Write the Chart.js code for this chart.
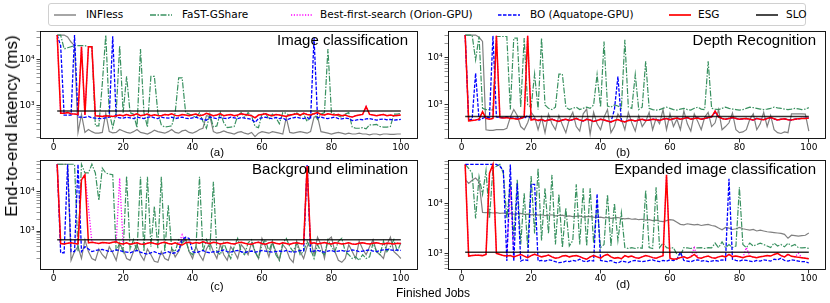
<!DOCTYPE html>
<html>
<head>
<meta charset="utf-8">
<script src="https://cdn.jsdelivr.net/npm/chart.js@4.4.1/dist/chart.umd.min.js"></script>
<style>
body { margin: 0; width: 830px; height: 303px; position: relative; background: #fff; overflow: hidden; font-family: "DejaVu Sans"; }
canvas { position: absolute; }
.txt { position: absolute; white-space: nowrap; color: #000; transform: translate(-50%, -50%); }
#legend { position: absolute; left: 48px; top: 3px; width: 758px; height: 23px; border: 1px solid #d0d0d0; border-radius: 3px; box-sizing: border-box; }
.lg { position: absolute; top: 0; height: 21px; line-height: 21px; font-size: 10.5px; white-space: nowrap; }
.lg span { white-space: nowrap; }
.lg svg { position: absolute; top: 9px; }
</style>
</head>
<body>
<div id="legend"></div>
<canvas id="panelA" width="418" height="130" style="left:0px;top:31px"></canvas>
<canvas id="panelB" width="418" height="130" style="left:408px;top:31px"></canvas>
<canvas id="panelC" width="418" height="132" style="left:0px;top:160px"></canvas>
<canvas id="panelD" width="418" height="132" style="left:408px;top:160px"></canvas>
<div class="txt" style="left:12px;top:126px;font:17px 'Liberation Sans';transform:translate(-50%,-50%) rotate(-90deg)">End-to-end latency (ms)</div>
<div class="txt" style="left:433px;top:293px;font:12px 'Liberation Sans'">Finished Jobs</div>
<div class="txt" style="left:217px;top:152px;font:11.5px 'Liberation Sans'">(a)</div>
<div class="txt" style="left:623px;top:152px;font:11.5px 'Liberation Sans'">(b)</div>
<div class="txt" style="left:217px;top:286px;font:11.5px 'Liberation Sans'">(c)</div>
<div class="txt" style="left:623px;top:284px;font:11.5px 'Liberation Sans'">(d)</div>
<script>
// x positions: finished job number 1..100
var jobs = Array.from({length: 100}, function (_, i) { return i + 1; });
var xTicks = [0, 20, 40, 60, 80, 100];
var yTicks = [200, 300, 400, 500, 600, 700, 800, 900, 1000, 2000, 3000, 4000, 5000, 6000, 7000, 8000, 9000, 10000, 20000, 30000, 40000, 50000, 60000, 70000];
var seriesNames = ['INFless', 'FaST-GShare', 'Best-first-search (Orion-GPU)', 'BO (Aquatope-GPU)', 'ESG', 'SLO'];
var panelTitles = ['Image classification', 'Depth Recognition', 'Background elimination', 'Expanded image classification'];
var sloValues = [760, 570, 600, 1050];

// (a) Image classification
var infA = [34000,34000,34000,31000,24000,20000,260,640,260,300,
270,250,250,260,680,270,255,260,300,280,
260,250,270,300,260,250,240,260,290,270,
260,250,270,300,260,250,280,290,260,250,
270,300,320,600,580,270,250,260,280,260,
250,240,260,270,250,240,260,210,250,270,
260,250,270,260,250,240,550,260,250,260,
270,260,250,270,560,580,270,260,250,240,
250,260,250,240,250,240,240,250,240,240,
230,240,240,230,240,240,235,235,240,240];
var fastA = [34000,34000,17000,18000,19000,20000,20000,20000,20000,19000,
19000,360,360,3000,34000,700,330,700,20000,700,
4300,700,650,330,17000,700,340,4300,4300,700,
380,340,350,360,700,4000,4000,700,650,600,
550,700,450,320,650,340,360,700,420,330,
340,350,600,700,550,700,600,350,330,650,
700,500,650,550,400,700,680,600,650,700,
600,650,450,600,700,500,650,700,17000,700,
650,600,550,650,700,340,320,320,330,310,
380,380,390,350,340,340,350,650,650,680];
var bfsA = [34000,680,680,700,660,650,640,19000,620,19000,
19000,600,590,580,600,590,580,600,620,600,
640,600,620,660,600,620,650,600,630,610,
600,640,620,660,610,600,640,620,600,630,
650,600,620,680,640,600,620,660,600,620,
640,600,620,660,640,620,600,540,620,640,
660,620,600,640,620,600,580,620,640,660,
620,680,640,620,660,700,640,620,660,640,
620,640,600,620,580,560,600,620,640,950,
640,620,600,620,640,600,620,600,610,620];
var boA = [34000,20000,620,620,620,34000,560,560,550,580,
540,530,520,520,540,560,32000,560,540,530,
560,540,520,560,540,520,550,570,540,520,
560,540,530,560,520,540,560,530,520,540,
560,520,500,480,560,540,520,550,530,520,
560,540,520,550,530,520,500,430,520,540,
560,530,520,550,520,540,480,520,540,560,
530,520,550,500,30000,540,560,530,520,540,
560,520,510,530,520,470,480,500,490,510,
520,500,480,500,510,490,500,480,490,500];
var esgA = [34000,680,680,700,660,650,640,19000,620,19000,
19000,600,590,580,600,590,580,600,620,600,
640,600,620,660,600,620,650,600,630,610,
600,640,620,660,610,600,640,620,600,630,
650,600,620,680,640,600,620,660,600,620,
640,600,620,660,640,620,600,540,620,640,
660,620,600,640,620,600,580,620,640,660,
620,680,640,620,660,700,640,620,660,640,
620,640,600,620,580,560,600,620,640,950,
640,620,600,620,640,600,620,600,610,620];

// (b) Depth Recognition
var infB = [30000,30000,30000,30000,27000,22000,300,290,290,300,
300,300,320,550,800,600,350,300,420,700,
560,300,550,260,640,400,300,600,380,260,
500,700,350,280,650,820,240,700,400,300,
550,800,260,350,650,500,300,700,420,280,
600,350,450,700,300,520,400,800,300,650,
350,500,300,750,400,280,650,450,300,550,
700,350,420,800,300,350,420,680,300,260,
270,300,500,650,300,400,700,350,600,300,
260,250,270,260,650,650,650,650,640,280];
var fastB = [30000,30000,30000,9000,28000,850,800,800,780,28000,
28000,28000,28000,800,26000,26000,900,26000,1000,900,
4500,800,26000,1000,850,800,900,4500,4500,900,
800,850,900,800,850,900,850,1000,4400,900,
22000,950,900,1000,950,850,24000,900,850,4400,
800,900,8400,850,800,780,800,850,900,850,
800,780,820,850,800,780,850,900,820,800,
8400,850,820,800,850,900,850,820,800,780,
800,850,900,880,850,820,800,820,850,900,
870,850,820,800,820,850,830,800,820,880];
var bfsB = [30000,460,470,480,500,720,520,500,520,29000,
540,530,540,520,520,500,520,560,29000,480,
500,470,490,460,480,500,470,450,480,500,
470,490,520,480,460,500,480,450,470,500,
480,460,440,470,490,460,440,470,480,460,
480,500,470,480,500,490,470,500,520,490,
510,530,500,520,540,500,520,530,500,520,
540,560,740,560,520,500,520,540,520,500,
510,520,500,480,520,500,490,520,540,510,
480,500,510,490,480,500,510,520,520,530];
var boB = [30000,480,500,4700,480,520,560,540,29000,560,
540,540,560,540,520,530,540,520,600,520,
500,470,490,460,480,500,470,450,480,500,
470,490,520,480,460,500,480,450,470,500,
480,460,440,800,4000,460,440,470,480,460,
480,500,470,480,500,490,470,500,520,490,
510,530,500,520,540,500,520,530,500,520,
540,560,700,560,520,500,520,540,520,500,
510,520,500,480,520,500,490,520,540,510,
480,500,510,490,480,500,510,520,520,530];
var esgB = [30000,460,470,480,500,720,520,500,520,29000,
540,530,540,520,520,500,520,560,29000,480,
500,470,490,460,480,500,470,450,480,500,
470,490,520,480,460,500,480,450,470,500,
480,460,440,470,490,460,440,470,480,460,
480,500,470,480,500,490,470,500,520,490,
510,530,500,520,540,500,520,530,500,520,
540,560,740,560,520,500,520,540,520,500,
510,520,500,480,520,500,490,520,540,510,
480,500,510,490,480,500,510,520,520,530];

// (c) Background elimination
var infC = [50000,50000,50000,50000,180,300,400,200,600,300,
200,180,350,250,200,400,280,180,450,350,
200,180,300,450,250,180,350,250,170,160,
300,200,180,350,220,300,500,650,300,200,
400,250,180,350,500,300,200,450,250,180,
400,300,200,450,350,250,500,300,200,650,
400,220,500,300,180,450,350,200,160,550,
300,200,400,600,250,700,450,200,600,700,
300,180,160,200,450,300,200,550,350,250,
400,600,300,250,200,450,700,300,250,200];
var fastC = [50000,50000,50000,50000,50000,50000,300,50000,30000,30000,
50000,30000,6000,40000,30000,28000,27000,300,500,300,
25000,350,600,300,24000,300,24000,400,4200,350,
24000,300,4500,350,300,600,500,600,300,250,
400,24000,300,600,350,18000,300,250,500,300,
200,400,650,300,250,500,600,300,200,450,
600,300,550,250,180,500,650,400,300,500,
250,300,550,350,200,450,300,250,600,400,
300,550,650,300,250,200,220,180,250,200,
220,500,300,250,550,300,400,600,300,500];
var bfsC = [50000,480,470,490,500,480,470,20000,27000,4150,
520,500,480,510,500,490,520,530,22000,470,
500,460,480,500,470,460,490,510,480,460,
500,520,480,470,500,460,800,500,520,480,
510,490,530,500,480,520,500,470,490,510,
480,470,500,520,490,470,460,500,520,480,
460,500,520,490,470,500,480,460,490,500,
480,470,45000,480,500,470,490,510,480,470,
500,490,470,480,500,470,460,490,500,480,
470,490,500,480,470,490,480,470,490,480];
var boC = [50000,280,280,50000,300,300,50000,300,400,350,
300,320,330,340,320,300,310,330,320,300,
290,280,300,320,290,270,260,280,300,270,
260,280,300,270,280,320,600,700,650,300,
280,300,320,290,280,300,290,310,330,300,
290,310,320,300,280,300,310,290,300,320,
310,300,290,300,310,300,320,300,290,300,
320,310,48000,300,310,320,300,290,310,320,
300,310,320,300,310,330,320,300,310,320,
330,310,300,320,330,340,330,320,330,320];
var esgC = [50000,480,470,490,500,480,470,20000,27000,500,
520,500,480,510,500,490,520,530,480,470,
500,460,480,500,470,460,490,510,480,460,
500,520,480,470,500,460,440,500,520,480,
510,490,530,500,480,520,500,470,490,510,
480,470,500,520,490,470,460,500,520,480,
460,500,520,490,470,500,480,460,490,500,
480,470,45000,480,500,470,490,510,480,470,
500,490,470,480,500,470,460,490,500,480,
470,490,500,480,470,490,480,470,490,480];

// (d) Expanded image classification
var infD = [30000,25000,29000,32000,27000,6600,6500,6600,6400,6500,
6300,6400,6200,6300,6100,6200,6300,6000,6100,5900,
6000,5800,5900,5700,5800,5900,5600,5700,5800,5500,
5600,5400,5500,5600,5300,5400,5500,5300,5200,5300,
5100,5200,5000,5100,5200,5000,4900,5000,4800,4900,
4700,4800,4600,4700,4500,4600,4400,4300,4500,4700,
4600,4200,3800,3700,3900,3800,3700,3800,3600,3700,
3800,3600,3500,3200,2950,3300,3200,3000,3100,3300,
3100,3000,2900,3000,2800,2900,2800,2700,2650,2600,
2550,2500,2400,2000,2300,2250,2200,2250,2300,2550];
var fastD = [60000,50000,40000,5000,34000,15000,45000,5000,50000,55000,
60000,40000,5000,25000,2000,30000,1500,16000,1300,35000,
2500,50000,1800,20000,2500,37000,1500,15000,1300,8000,
1400,1800,24000,1500,20000,1400,20000,1600,10000,1300,
1500,15000,1400,10000,1800,6500,1300,1250,1300,1250,
1300,1260,18000,1300,1250,21000,1300,1600,1300,1250,
1300,950,900,1300,1280,1250,1300,1280,1300,1250,
1300,1280,1600,1300,1700,1300,1500,1300,1400,21000,
1500,1300,1600,1400,1500,1600,1500,1400,1300,1600,
1400,1500,1350,1600,1400,1500,1300,1280,1300,1250];
var bfsD = [60000,880,900,920,920,900,950,40000,60000,1000,
950,900,880,20000,850,900,950,880,820,900,
960,900,850,880,920,850,800,820,880,900,
850,880,900,860,800,760,850,900,850,800,
900,950,850,800,820,780,900,850,880,820,
800,850,900,870,820,800,850,900,37000,800,
760,780,820,850,800,850,1300,820,800,850,
880,820,800,850,880,850,950,860,880,850,
820,1300,880,840,820,850,870,900,880,950,
1000,900,850,950,870,850,1000,820,800,780];
var boD = [60000,60000,60000,60000,60000,60000,60000,60000,60000,60000,
55000,45000,700,60000,700,25000,700,750,720,24000,
24000,700,720,700,740,720,680,650,660,700,
680,720,700,760,700,680,720,700,15500,720,
700,680,720,660,640,700,680,650,700,720,
700,680,700,720,740,700,680,720,700,740,
720,760,1050,720,700,680,720,740,700,720,
680,700,720,700,740,720,31000,760,720,700,
740,720,700,680,720,700,740,720,700,760,
740,800,720,700,740,720,700,680,680,640];
var esgD = [60000,880,900,920,920,900,950,40000,60000,1000,
950,900,880,900,850,900,950,880,820,900,
960,900,850,880,920,850,800,820,880,900,
850,880,900,860,800,760,850,900,850,800,
900,950,850,800,820,780,900,850,880,820,
800,850,900,870,820,800,850,900,37000,800,
760,780,820,850,800,850,950,820,800,850,
880,820,800,850,880,850,950,860,880,850,
820,860,880,840,820,850,870,900,880,950,
1000,900,850,950,870,850,830,820,800,780];

// line looks, same order as seriesNames
var styles = [
	{color: '#808080', width: 1.2, dash: []},
	{color: 'rgba(46,139,87,0.95)', width: 1.2, dash: [6, 1.5, 1.5, 1.5]},
	{color: '#ff00ff', width: 1.3, dash: [1.2, 1.6]},
	{color: '#0000ff', width: 1.3, dash: [3.5, 1.5]},
	{color: '#ff0000', width: 1.5, dash: []},
	{color: 'rgba(0,0,0,0.8)', width: 1.6, dash: []}
];

function buildLegend() {
	var box = document.getElementById('legend');
	var lineX = [5, 101, 242, 449, 620, 707];
	var textX = [37, 133, 271, 481, 649, 737];
	for (var i = 0; i < seriesNames.length; i++) {
		var st = styles[i];
		var item = document.createElement('div');
		item.className = 'lg';
		item.style.left = lineX[i] + 'px';
		item.innerHTML = '<svg width="22" height="4"><line x1="0" y1="2" x2="22" y2="2" stroke="' + st.color +
			'" stroke-width="' + (st.width + 0.2) + '" stroke-dasharray="' + (st.dash.length ? st.dash.join(' ') : 'none') + '"/></svg>' +
			'<span style="position:absolute;left:' + (textX[i] - lineX[i]) + 'px">' + seriesNames[i] + '</span>';
		box.appendChild(item);
	}
}

var panelDecor = {
	id: 'panelDecor',
	afterDraw: function (chart, args, opts) {
		var a = chart.chartArea, ctx = chart.ctx;
		ctx.save();
		ctx.strokeStyle = '#000';
		ctx.lineWidth = 0.9;
		ctx.strokeRect(a.left + 0.5, a.top + 0.5, a.right - a.left - 1, a.bottom - a.top - 1);
		ctx.fillStyle = '#000';
		ctx.font = '15px "Liberation Sans"';
		ctx.textAlign = 'right';
		ctx.textBaseline = 'alphabetic';
		ctx.fillText(opts.text, a.right - 10, a.top + 13.5);
		ctx.restore();
	}
};

function makeSet(i, values) {
	var st = styles[i];
	var pts = [];
	for (var k = 0; k < values.length; k++) pts.push({x: jobs[k], y: values[k]});
	return {
		label: seriesNames[i], data: pts, borderColor: st.color, borderWidth: st.width,
		borderDash: st.dash, pointRadius: 0, fill: false, tension: 0, order: 5 - i
	};
}

function drawPanel(id, n, yMin, yMax, series) {
	var sets = [];
	for (var i = 0; i < series.length; i++) sets.push(makeSet(i, series[i]));
	sets.push(makeSet(5, []));
	sets[5].data = [{x: 1, y: sloValues[n]}, {x: 100, y: sloValues[n]}];
	var ctx = document.getElementById(id).getContext('2d');
	return new Chart(ctx, {type: 'line', data: {datasets: sets}, options: {
		responsive: false,
		animation: false,
		devicePixelRatio: 1,
		layout: {padding: 0},
		plugins: {legend: {display: false}, tooltip: {enabled: false}, panelDecor: {text: panelTitles[n]}},
		scales: {
			x: {
				type: 'linear', min: -3.95, max: 104.95,
				afterBuildTicks: function (s) { s.ticks = xTicks.map(function (v) { return {value: v}; }); },
				afterFit: function (s) { s.height = 22; s.paddingLeft = 0; s.paddingRight = 0; },
				border: {display: false},
				grid: {drawOnChartArea: false, tickLength: 3.5, color: '#000', lineWidth: 0.8},
				ticks: {color: '#000', font: {family: 'DejaVu Sans', size: 9}, padding: 0, maxRotation: 0, autoSkip: false}
			},
			y: {
				type: 'logarithmic', min: yMin, max: yMax,
				afterBuildTicks: function (s) {
					s.ticks = yTicks.filter(function (v) { return v >= yMin && v <= yMax; }).map(function (v) { return {value: v}; });
				},
				afterFit: function (s) { s.width = 40; s.paddingTop = 0; s.paddingBottom = 0; },
				border: {display: false},
				grid: {drawOnChartArea: false, tickLength: 3.5, lineWidth: 0.8,
					color: function (c) { return (c.tick && (c.tick.value === 1000 || c.tick.value === 10000)) ? '#000' : '#777'; }},
				ticks: {color: '#000', font: {family: 'DejaVu Sans', size: 9}, padding: 2, autoSkip: false,
					callback: function (v) { return v === 1000 ? '10\u00b3' : (v === 10000 ? '10\u2074' : ''); }}
			}
		}
	}, plugins: [panelDecor]});
}

buildLegend();
drawPanel('panelA', 0, 187, 41700, [infA, fastA, bfsA, boA, esgA]);
drawPanel('panelB', 1, 191, 36600, [infB, fastB, bfsB, boB, esgB]);
drawPanel('panelC', 2, 102, 64100, [infC, fastC, bfsC, boC, esgC]);
drawPanel('panelD', 3, 464, 73500, [infD, fastD, bfsD, boD, esgD]);
</script>
</body>
</html>
